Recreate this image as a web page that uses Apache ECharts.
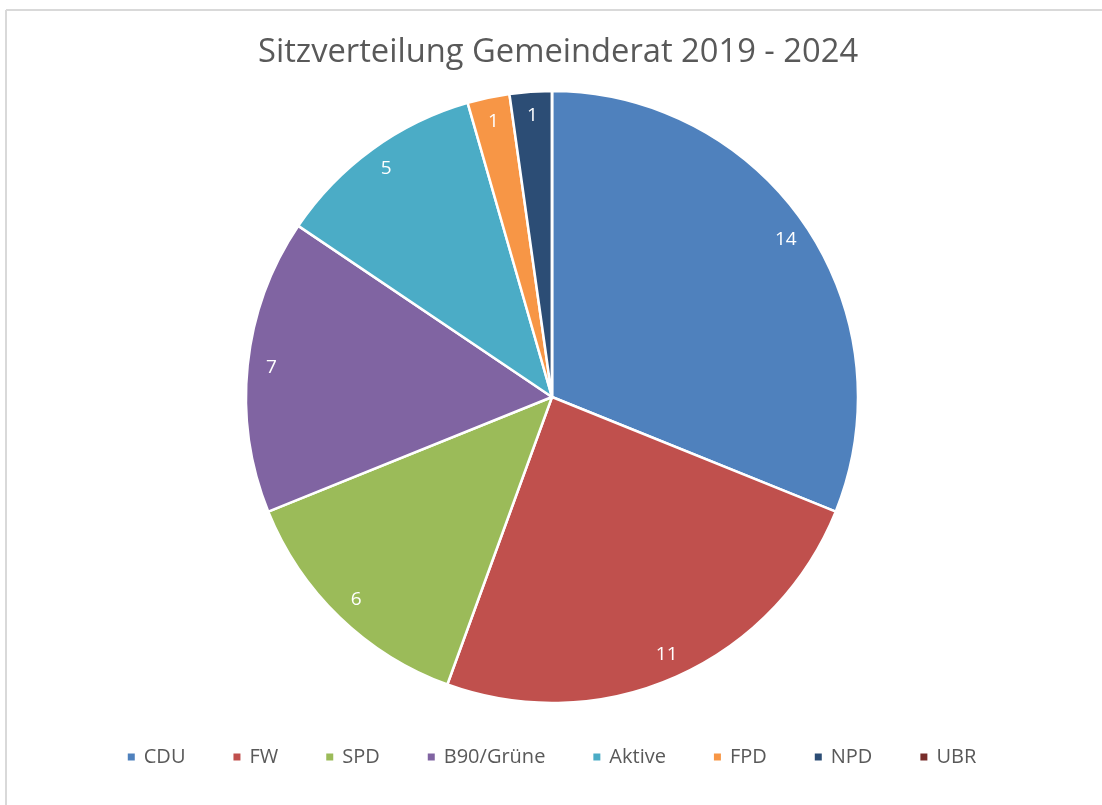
<!DOCTYPE html>
<html>
<head>
<meta charset="utf-8">
<script src="https://cdn.jsdelivr.net/npm/echarts@6/dist/echarts.min.js"></script>
<style>
  html, body { margin: 0; padding: 0; background: #fff; }
  #chart { width: 1102px; height: 805px; }
</style>
</head>
<body>
<div id="chart"></div>
<script>
var parties = ['CDU', 'FW', 'SPD', 'B90/Grüne', 'Aktive', 'FPD', 'NPD', 'UBR'];
var seats = [14, 11, 6, 7, 5, 1, 1, 0];
var colors = ['#4F81BD', '#C0504D', '#9BBB59', '#8064A2', '#4BACC6', '#F79646', '#2C4D75', '#772C2A'];

var chart = echarts.init(document.getElementById('chart'));

var pieData = [];
var labelData = [];
for (var i = 0; i < parties.length; i++) {
  pieData.push({ name: parties[i], value: seats[i], itemStyle: { color: colors[i] } });
  labelData.push({ name: parties[i], value: seats[i] });
}

var font = '"Open Sans", "Noto Sans", sans-serif';

var option = {
  animation: false,
  title: {
    text: 'Sitzverteilung Gemeinderat 2019 - 2024',
    left: 253,
    top: 31,
    textStyle: { color: '#595959', fontSize: 32.7, fontWeight: 'normal', fontFamily: font }
  },
  legend: {
    data: parties,
    left: 'center',
    top: 742,
    icon: 'rect',
    itemWidth: 9,
    itemHeight: 9,
    itemGap: 46,
    selectedMode: false,
    textStyle: { color: '#595959', fontSize: 20, fontFamily: font, padding: [0, 0, 0, 3] }
  },
  // light frame like the original chart area
  graphic: [
    { type: 'line', shape: { x1: 6, y1: 10, x2: 1102, y2: 10 }, style: { stroke: '#d9d9d9', lineWidth: 2 } },
    { type: 'line', shape: { x1: 6, y1: 10, x2: 6, y2: 805 }, style: { stroke: '#d9d9d9', lineWidth: 2 } }
  ],
  series: [
    {
      type: 'pie',
      center: [552, 397],
      radius: [0, 306],
      startAngle: 90,
      clockwise: true,
      itemStyle: { borderColor: '#fff', borderWidth: 2.5 },
      label: { show: false },
      labelLine: { show: false },
      emphasis: { disabled: true },
      data: pieData
    },
    {
      // invisible ring only used to place the value labels near the rim
      type: 'pie',
      center: [552, 397],
      radius: [252, 306],
      startAngle: 90,
      clockwise: true,
      silent: true,
      itemStyle: { color: 'rgba(0,0,0,0)', borderWidth: 0 },
      label: {
        show: true,
        position: 'inside',
        color: '#fff',
        fontSize: 19,
        fontFamily: font,
        formatter: function (p) { return p.value > 0 ? String(p.value) : ''; }
      },
      labelLine: { show: false },
      emphasis: { disabled: true },
      data: labelData
    }
  ]
};

chart.setOption(option);
</script>
</body>
</html>
